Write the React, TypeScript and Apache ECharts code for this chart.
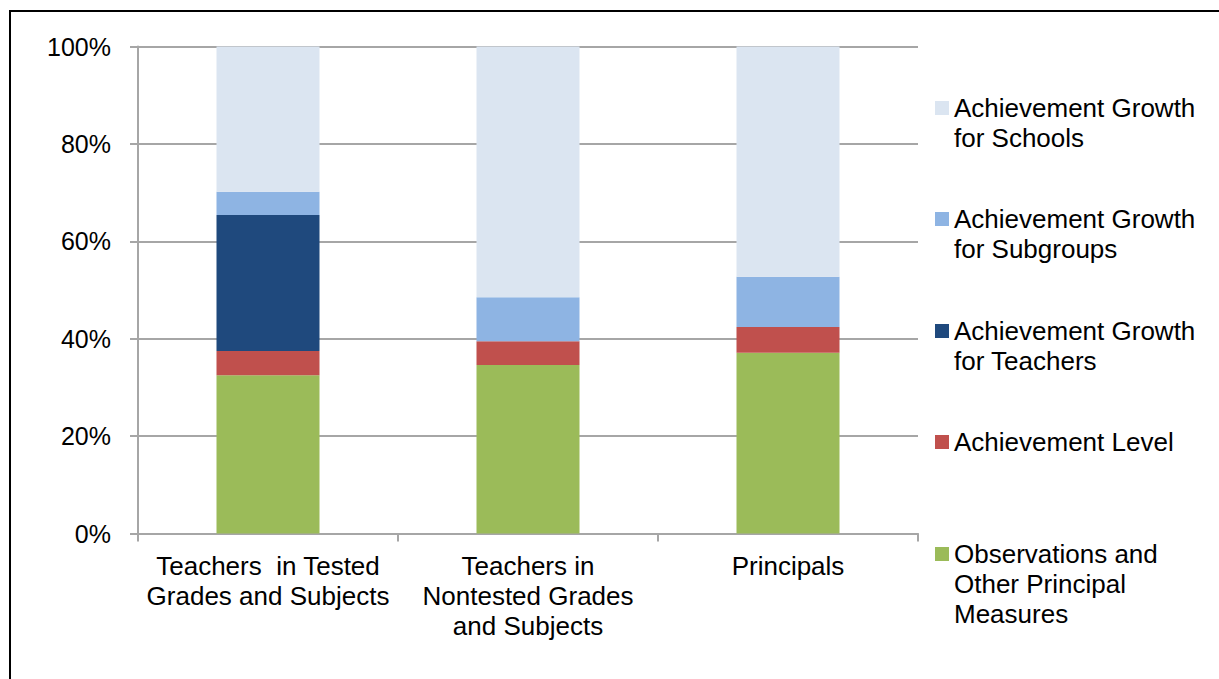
import React, { useEffect, useRef } from "react";
import * as echarts from "echarts";

const categories = [
  "Teachers  in Tested\nGrades and Subjects",
  "Teachers in\nNontested Grades\nand Subjects",
  "Principals",
];

const seriesNames = [
  "Observations and Other Principal Measures",
  "Achievement Level",
  "Achievement Growth for Teachers",
  "Achievement Growth for Subgroups",
  "Achievement Growth for Schools",
];

const observations = [32.5, 34.6, 37.1];
const achievementLevel = [5.0, 4.9, 5.3];
const growthTeachers = [27.9, 0, 0];
const growthSubgroups = [4.8, 9.0, 10.3];
const growthSchools = [29.8, 51.5, 47.3];

const seriesColors = ["#9BBB59", "#C0504D", "#1F497D", "#8EB4E3", "#DBE5F1"];

const legendLabels = [
  "Observations and\nOther Principal\nMeasures",
  "Achievement Level",
  "Achievement Growth\nfor Teachers",
  "Achievement Growth\nfor Subgroups",
  "Achievement Growth\nfor Schools",
];

const yTicks = [0, 20, 40, 60, 80, 100];

const FONT = "'Liberation Sans', Arial, sans-serif";

export default function App() {
  const ref = useRef<HTMLDivElement>(null);

  useEffect(() => {
    if (!ref.current) return;
    const chart = echarts.init(ref.current, undefined, { renderer: "svg" });
    const values = [observations, achievementLevel, growthTeachers, growthSubgroups, growthSchools];

    const legendCenters = [554, 442, 331, 219, 108];
    const lineH = 30;
    const legends = seriesNames.map((name, i) => {
      const n = legendLabels[i].split("\n").length;
      const padded = "\n".repeat(n - 1) + legendLabels[i];
      const h = lineH * (2 * (n - 1) + 1);
      return {
        data: [name],
        orient: "vertical",
        left: 935,
        top: legendCenters[i] - h / 2,
        itemWidth: 14,
        itemHeight: 14,
        padding: 0,
        icon: "rect",
        selectedMode: false,
        formatter: () => padded,
        textStyle: {
          fontFamily: FONT,
          fontSize: 26,
          lineHeight: lineH,
          color: "#000",
        },
      };
    });

    chart.setOption({
      animation: false,
      backgroundColor: "#fff",
      grid: {
        left: 138,
        right: 301,
        top: 46.5,
        bottom: 145.5,
        containLabel: false,
      },
      legend: legends,
      xAxis: {
        type: "category",
        data: categories,
        axisLine: { show: true, lineStyle: { color: "#a6a6a6", width: 2 } },
        axisTick: { show: true, length: 8, lineStyle: { color: "#a6a6a6", width: 2 } },
        axisLabel: {
          interval: 0,
          margin: 17,
          fontFamily: FONT,
          fontSize: 26,
          lineHeight: 30,
          color: "#000",
        },
      },
      yAxis: {
        type: "value",
        min: yTicks[0],
        max: yTicks[yTicks.length - 1],
        interval: 20,
        axisLine: { show: true, lineStyle: { color: "#a6a6a6", width: 2 } },
        axisTick: { show: true, length: 8, lineStyle: { color: "#a6a6a6", width: 2 } },
        splitLine: { show: true, lineStyle: { color: "#a6a6a6", width: 2 } },
        axisLabel: {
          margin: 27,
          formatter: "{value}%",
          fontFamily: FONT,
          fontSize: 25,
          color: "#000",
        },
      },
      series: seriesNames.map((name, i) => ({
        name,
        type: "bar",
        stack: "total",
        barWidth: 103,
        data: values[i],
        itemStyle: { color: seriesColors[i] },
      })),
      graphic: [
        {
          type: "polyline",
          shape: { points: [[10, 700], [10, 11], [1240, 11]] },
          style: { stroke: "#000", lineWidth: 2, fill: "none" },
          silent: true,
        },
      ],
    });

    return () => chart.dispose();
  }, []);

  return (
    <div
      ref={ref}
      style={{ position: "fixed", left: 0, top: 0, width: 1219, height: 679 }}
    />
  );
}
